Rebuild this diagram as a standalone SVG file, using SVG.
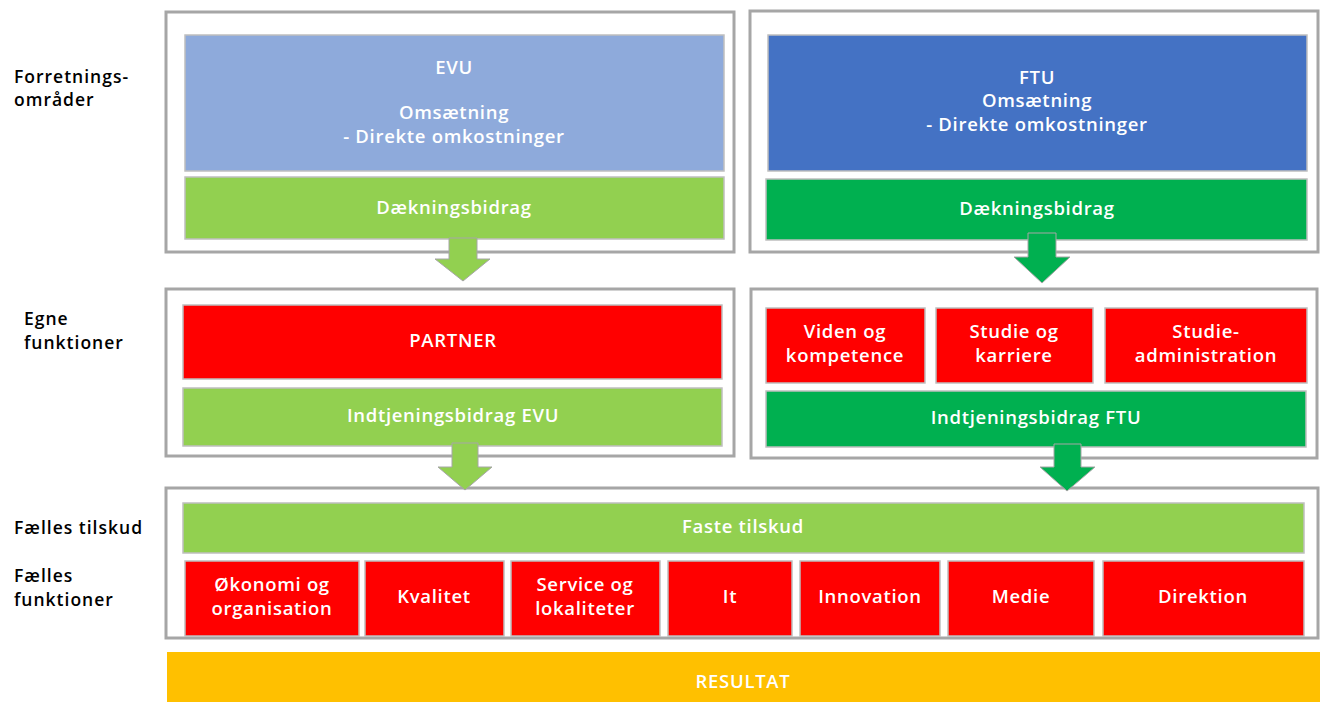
<svg xmlns="http://www.w3.org/2000/svg" width="1325" height="702" viewBox="0 0 1325 702">
<style>
.outer{fill:#fff;stroke:#a6a6a6;stroke-width:3}
.box{stroke:#bfbfbf;stroke-width:1.5}
.lb{fill:#92d050}.dg{fill:#00b050}.rd{fill:#ff0000}.b1{fill:#8eaadb}.b2{fill:#4472c4}
.t{font-family:"Open Sans","Liberation Sans",sans-serif;font-size:18.5px;font-weight:600;letter-spacing:0.7px;fill:#fff;text-anchor:middle}
.s{font-family:"Open Sans","Liberation Sans",sans-serif;font-size:17.5px;font-weight:600;letter-spacing:1px;fill:#000}
.arr{stroke:#a6a6a6;stroke-width:1}
</style>
<rect width="1325" height="702" fill="#fff"/>
<g id="labels">
<text class="s" x="14" y="83">Forretnings-</text>
<text class="s" x="14" y="106">områder</text>
<text class="s" x="24" y="325">Egne</text>
<text class="s" x="24" y="349">funktioner</text>
<text class="s" x="14" y="534">Fælles tilskud</text>
<text class="s" x="14" y="582">Fælles</text>
<text class="s" x="14" y="606">funktioner</text>
</g>
<g id="frame-evu"><rect class="outer" x="166" y="12" width="568" height="240"/></g>
<g id="frame-ftu"><rect class="outer" x="750" y="11" width="568" height="241"/></g>
<g id="frame-egne-evu"><rect class="outer" x="166" y="289" width="568" height="167"/></g>
<g id="frame-egne-ftu"><rect class="outer" x="751" y="289" width="566" height="169"/></g>
<g id="frame-faelles"><rect class="outer" x="166" y="488" width="1152" height="150"/></g>
<g id="evu"><rect class="box b1" x="185" y="35" width="539" height="136"/>
<text class="t" x="454" y="74">EVU</text><text class="t" x="454" y="119">Omsætning</text><text class="t" x="454" y="143">- Direkte omkostninger</text></g>
<g id="evu-db"><rect class="box lb" x="185" y="177" width="539" height="62"/><text class="t" x="454" y="214">Dækningsbidrag</text></g>
<g id="ftu"><rect class="box b2" x="768" y="35" width="539" height="136"/>
<text class="t" x="1037" y="84">FTU</text><text class="t" x="1037" y="107">Omsætning</text><text class="t" x="1037" y="131">- Direkte omkostninger</text></g>
<g id="ftu-db"><rect class="box dg" x="766" y="179" width="541" height="61"/><text class="t" x="1037" y="215">Dækningsbidrag</text></g>
<g id="partner"><rect class="box rd" x="183" y="305" width="539" height="74"/><text class="t" x="453" y="347">PARTNER</text></g>
<g id="ib-evu"><rect class="box lb" x="183" y="388" width="539" height="58"/><text class="t" x="453" y="422">Indtjeningsbidrag EVU</text></g>
<g id="viden"><rect class="box rd" x="766" y="308" width="159" height="75"/><text class="t" x="845" y="338">Viden og</text><text class="t" x="845" y="362">kompetence</text></g>
<g id="studie"><rect class="box rd" x="936" y="308" width="157" height="75"/><text class="t" x="1014" y="338">Studie og</text><text class="t" x="1014" y="362">karriere</text></g>
<g id="studieadm"><rect class="box rd" x="1105" y="308" width="202" height="75"/><text class="t" x="1206" y="338">Studie-</text><text class="t" x="1206" y="362">administration</text></g>
<g id="ib-ftu"><rect class="box dg" x="766" y="391" width="540" height="56"/><text class="t" x="1036" y="424">Indtjeningsbidrag FTU</text></g>
<g id="faste"><rect class="box lb" x="183" y="503" width="1121" height="50"/><text class="t" x="743" y="533">Faste tilskud</text></g>
<g id="oko"><rect class="box rd" x="185" y="561" width="174" height="75"/><text class="t" x="272" y="591">Økonomi og</text><text class="t" x="272" y="615">organisation</text></g>
<g id="kval"><rect class="box rd" x="365" y="561" width="139" height="75"/><text class="t" x="434" y="603">Kvalitet</text></g>
<g id="service"><rect class="box rd" x="511" y="561" width="149" height="75"/><text class="t" x="585" y="591">Service og</text><text class="t" x="585" y="615">lokaliteter</text></g>
<g id="it"><rect class="box rd" x="668" y="561" width="124" height="75"/><text class="t" x="730" y="603">It</text></g>
<g id="innovation"><rect class="box rd" x="800" y="561" width="140" height="75"/><text class="t" x="870" y="603">Innovation</text></g>
<g id="medie"><rect class="box rd" x="948" y="561" width="146" height="75"/><text class="t" x="1021" y="603">Medie</text></g>
<g id="direktion"><rect class="box rd" x="1103" y="561" width="201" height="75"/><text class="t" x="1203" y="603">Direktion</text></g>
<g id="resultat"><rect x="167" y="652" width="1153" height="50" fill="#ffc000"/><text class="t" x="743" y="688">RESULTAT</text></g>
<g id="connectors">
<polygon class="arr" fill="#92d050" points="449,238 477,238 477,259 490,259 463,281 435,259 449,259"/>
<polygon class="arr" fill="#00b050" points="1028,233 1056,233 1056,257 1070,257 1042,283 1014,257 1028,257"/>
<polygon class="arr" fill="#92d050" points="452,443 478,443 478,467 492,467 465,490 438,467 452,467"/>
<polygon class="arr" fill="#00b050" points="1054,444 1081,444 1081,467 1095,467 1067,491 1040,467 1054,467"/>
</g>
</svg>
